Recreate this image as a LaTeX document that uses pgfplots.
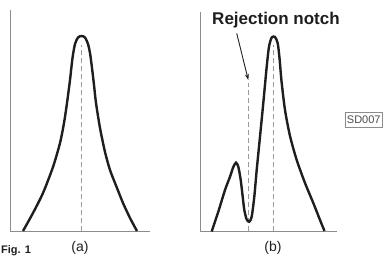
\documentclass[border=0pt]{standalone}
\usepackage{pgfplots}
\pgfplotsset{compat=1.18}
\usepackage{fontspec}
\setmainfont{Liberation Sans}
\usetikzlibrary{arrows.meta}
\definecolor{axisgray}{HTML}{8C8C8C}
\definecolor{dashgray}{HTML}{9A9A9A}
\definecolor{ink}{HTML}{1E1E1E}
\begin{document}
\begin{tikzpicture}[x=1pt,y=1pt]
\clip (0,0) rectangle (385,256);
\path[use as bounding box] (0,0) rectangle (385,256);
\pgfplotsset{panel/.style={
  scale only axis, axis lines=left, axis line style={axisgray, line width=1pt, -},
  ticks=none, clip=false}}
% (a)
\begin{axis}[panel, at={(10pt,24.5pt)}, anchor=south west,
  width=140pt, height=221.5pt, xmin=10, xmax=150, ymin=24.5, ymax=246]
\addplot[dashgray, line width=1.5pt, dash pattern=on 5pt off 3pt] coordinates {(81.5,24.5) (81.5,211)};
\addplot[ink, line width=2.4pt, smooth, tension=0.45] coordinates {
(23,25) (33,43) (43,63) (53,89) (60,113) (64,133) (67,153) (70,176) (72.5,198)
(75,212) (78,218.5) (81.5,220) (85,218.5) (88,212) (90,203) (92,188) (94,171)
(96,153) (100,128) (105,104) (110,86) (117,68) (123,53) (130,38) (137,25)};
\end{axis}
% (b)
\begin{axis}[panel, at={(200pt,24.5pt)}, anchor=south west,
  width=137pt, height=219.5pt, xmin=200, xmax=337, ymin=24.5, ymax=244]
\addplot[dashgray, line width=1.5pt, dash pattern=on 5pt off 3pt] coordinates {(248.5,24.5) (248.5,173)};
\addplot[dashgray, line width=1.5pt, dash pattern=on 5pt off 3pt] coordinates {(273.3,24.5) (273.3,211)};
\addplot[ink, line width=2.4pt, smooth, tension=0.45] coordinates {
(211.7,24.5) (218.3,44.3) (225,66) (230,79.3) (233.3,89) (236,93.3) (238.3,89.3)
(240.7,76) (242.7,59.3) (244.3,46) (246.7,36.5) (249.3,34.3) (251.7,39.3)
(254.3,59.3) (256.7,86) (260,119.3) (263.3,153) (266.7,189.3) (269,209.3)
(271.7,218.5) (275,219) (277.7,212.7) (279.5,198) (281.5,175) (285,146)
(290,120) (296.7,96) (305,73) (313.3,53) (320,36) (324.5,25)};
\draw[ink, line width=0.9pt, -{Stealth[length=6pt,width=4pt]}] (axis cs:236.7,222.7) -- (axis cs:248.3,176);
\node[font=\bfseries\fontsize{17}{19}\selectfont, text=ink, anchor=base] at (axis cs:276,231) {Rejection notch};
\end{axis}
\node[font=\fontsize{14}{16}\selectfont, text=ink] at (80,8) {(a)};
\node[font=\fontsize{14}{16}\selectfont, text=ink] at (273,8) {(b)};
\node[font=\bfseries\fontsize{11}{13}\selectfont, text=ink, anchor=base west, inner sep=0pt] at (1,2.5) {Fig. 1};
\node[draw=axisgray, line width=0.9pt, font=\fontsize{11}{12}\selectfont, text=ink!80, anchor=west, inner sep=1.5pt, minimum height=15pt] at (345,136.5) {SD007};
\end{tikzpicture}
\end{document}
